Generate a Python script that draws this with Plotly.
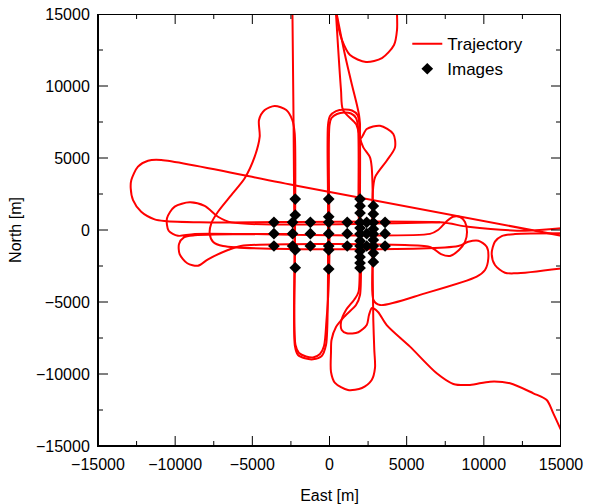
import plotly.graph_objects as go

# ---------------- data (metres) ----------------
# Trajectory pieces (East, North)
seg_a_east = [15050, -2040, -10900, -11760, -12410, -12840, -12880, -12730, -12200, -11330, -10680, -8400, 7160, 8975, 12670, 15050]
seg_a_north = [-400, 3055, 4860, 4810, 4400, 3470, 2900, 2080, 1270, 740, 620, 530, 530, 230, -50, 120]

seg_b_east = [15050, 12020, 11160, 10720, 10510, 10720, 11370, 12020, 15050]
seg_b_north = [-230, -280, -420, -810, -1620, -2430, -2965, -3010, -2660]

seg_c_east = [7160, -6360, -7225, -8090, -9060, -10030, -10530, -10420, -9820, -8720, 6510,
              7030, 7550, 8000, 8460, 8780, 8910, 8780, 8390, 7810, 7225, 6770, 6380,
              -5750, -6580, -7870, -8520, -9215, -9710, -9750, -9430, -8735, -2200]
seg_c_north = [530, 530, 920, 1670, 1920, 1620, 810, -50, -400, -270, -270,
               0, 560, 920, 900, 560, -140, -830, -1390, -1800, -1670, -1320, -1150,
               -1110, -1390, -2035, -2480, -2310, -1670, -970, -510, -370, -270]

seg_d_east = [-2400, -2330, -2270, -2240, -2040, -1590, -1070, -505, -227, -143, -97, -97, -97,
              32, 421, 940, 1458, 1814, 1944, 1976, 1976, 1717, 1004, 421, 130, 97, 97, 356,
              1199, 2106, 2735, 2948, 2903, 2838, 2819, 2799, 2948, 3707, 4244, 4134, 3272,
              2411, 2041, 1717, 875, 745, 421]
seg_d_north = [15000, 7640, -1390, -8055, -8680, -8910, -8980, -8750, -7990, -6715, -2990, 2080, 7290,
               7920, 8260, 8370, 8300, 7990, 7290, 2080, -4510, -5210, -5970, -6740, -7640, -8470, -9860, -10620,
               -11110, -10970, -10420, -9580, -8330, -6250, -4860, 2500, 3660, 4810, 5740, 6670, 7240,
               7010, 6390, 7360, 8330, 9720, 15000]

seg_e_east = [4374, 4374, 4180, 3400, 2365, 1330, 810, 550, 470]
seg_e_north = [15000, 13890, 12850, 11940, 11670, 12150, 13190, 14240, 15000]

seg_f_east = [467, 1004, 1458, 1763, 1912, 1976, 1976, 2190, 2624, 2735, 2799, 2819, 2851, 3272, 6188,
              9539, 10076, 10290, 10187, 9642, 8994, 8346, -6900, -7549, -7763, -7659, -7225, -6363,
              -5495, -4847, -4523, -4568, -4199, -3551, -2799, -2411, -2255, -2236, -2203, -1976,
              -1523, -1069, -616, -356, -194, -65, 0, 0, 130, 486, 940, 1393, 1717, 1847, 1879,
              1879, 1588, 1069, 745, 791, 1115, 1866, 2411, 2560, 2754, 3143, 3707, 5216, 6947,
              8022, 9104, 10400, 11696, 13206, 14075, 14502, 15047]
seg_f_north = [15000, 12150, 10070, 8750, 7990, 7360, 6440, 5740, 5050, 4350, 2500, -1390, -4860, -5210, -4400,
               -3240, -2780, -1965, -1160, -740, -810, -1110, -1110, -812, -229, 465, 1271, 2430,
               3590, 5090, 6480, 7640, 8330, 8610, 8330, 7640, 6715, -1390, -7990, -8540,
               -8780, -8850, -8610, -8055, -6250, -4170, -1390, 7290, 7780, 8055, 8160, 8090, 7780, 7150, 2080,
               -4305, -4860, -5555, -6390, -6940, -7170, -7100, -6600, -5900, -5420, -5690, -6600, -8100, -9950,
               -10690, -10760, -10530, -10645, -11340, -11805, -12730, -14006]

trajectory_east = [seg_a_east, seg_b_east, seg_c_east, seg_d_east, seg_e_east, seg_f_east]
trajectory_north = [seg_a_north, seg_b_north, seg_c_north, seg_d_north, seg_e_north, seg_f_north]

# Image positions
img_east = [-3600, -3600, -3600,
            -2390, -2390, -2390,
            -2220, -2220, -2220, -2220,
            -1240, -1240, -1240,
            -50, -50, -50, -50, -50, -50, -50,
            1150, 1150, 1150,
            1980, 1980, 1980, 1980, 1980, 1980, 1980, 1980, 1980, 1980, 1980, 1980,
            2410, 2410, 2410,
            2840, 2840, 2840, 2840, 2840, 2840, 2840, 2840, 2840,
            3600, 3600, 3600]
img_north = [535, -257, -1111,
             535, -257, -1111,
             2150, 1040, -1390, -2620,
             535, -257, -1111,
             2150, 920, 535, -257, -1111, -1390, -2710,
             535, -257, -1111,
             2150, 1670, 1180, 520, 140, -280, -760, -1111, -1460, -1875, -2290, -2640,
             535, -257, -1111,
             1670, 1110, 520, 70, -280, -690, -1111, -1600, -2220,
             535, -257, -1111]

tick_values = [-15000, -10000, -5000, 0, 5000, 10000, 15000]
tick_labels = ["\u221215000", "\u221210000", "\u22125000", "0", "5000", "10000", "15000"]
minor_tick_values = [-12500, -7500, -2500, 2500, 7500, 12500]
axis_range = [-15000, 15000]

# ---------------- geometry of the frame (style only) ----------------
W, H = 594, 504
M_L, M_R, M_T, M_B = 98, 33, 14, 58
plot_w_px = W - M_L - M_R
plot_h_px = H - M_T - M_B
span = axis_range[1] - axis_range[0]
major_px, minor_px = 10, 5
lo, hi = axis_range


def tick_path(values, length_px):
    """Tick segments on all four edges, as one None-separated polyline."""
    dx = length_px * span / plot_w_px   # horizontal tick length in east units
    dy = length_px * span / plot_h_px   # vertical tick length in north units
    xs, ys = [], []
    for v in values:
        xs += [v, v, None, v, v, None, lo, lo + dx, None, hi, hi - dx, None]
        ys += [lo, lo + dy, None, hi, hi - dy, None, v, v, None, v, v, None]
    return xs, ys


# ---------------- figure ----------------
fig = go.Figure()
for i, (ex, nn) in enumerate(zip(trajectory_east, trajectory_north)):
    fig.add_trace(go.Scatter(
        x=ex, y=nn, mode="lines",
        line=dict(color="#ff0000", width=2, shape="spline", smoothing=0.8),
        name="Trajectory", legendgroup="traj", showlegend=(i == 0)))

# frame (half of the 2px line is clipped, leaving a 1px border)
fig.add_trace(go.Scatter(x=[lo, hi, hi, lo, lo], y=[lo, lo, hi, hi, lo], mode="lines",
                         line=dict(color="black", width=2), showlegend=False, hoverinfo="skip"))
mj_x, mj_y = tick_path(tick_values[1:-1], major_px)
fig.add_trace(go.Scatter(x=mj_x, y=mj_y, mode="lines", line=dict(color="black", width=1),
                         showlegend=False, hoverinfo="skip"))
mn_x, mn_y = tick_path(minor_tick_values, minor_px)
fig.add_trace(go.Scatter(x=mn_x, y=mn_y, mode="lines", line=dict(color="black", width=1),
                         showlegend=False, hoverinfo="skip"))

fig.add_trace(go.Scatter(
    x=img_east, y=img_north, mode="markers",
    marker=dict(symbol="diamond", color="black", size=9),
    name="Images"))

font_family = "Liberation Sans, Arial, sans-serif"
axis_common = dict(
    showgrid=False, zeroline=False, automargin=False,
    showline=True, linecolor="black", linewidth=1,
    ticks="", tickfont=dict(family=font_family, size=16, color="black"),
    tickmode="array", tickvals=tick_values, ticktext=tick_labels,
    ticklabelstandoff=4,
    range=axis_range,
)

fig.update_layout(
    xaxis=dict(title=dict(text="East [m]", font=dict(family=font_family, size=16, color="black"), standoff=20),
               **axis_common),
    yaxis=dict(title=dict(text="North [m]", font=dict(family=font_family, size=16, color="black"), standoff=10),
               **axis_common),
    width=W, height=H,
    margin=dict(l=M_L, r=M_R, t=M_T, b=M_B, pad=0),
    paper_bgcolor="white", plot_bgcolor="white",
    font=dict(family=font_family, size=16, color="black"),
    legend=dict(x=0.668, y=0.972, xanchor="left", yanchor="top",
                bgcolor="rgba(255,255,255,0)", borderwidth=0,
                font=dict(family=font_family, size=17, color="black"),
                tracegroupgap=0),
    showlegend=True,
)

# remove the default 8px page margin so the figure sits at the window's corner
fig.write_html("out.html", config={"displayModeBar": False},
               post_script="document.body.style.margin='0';")
